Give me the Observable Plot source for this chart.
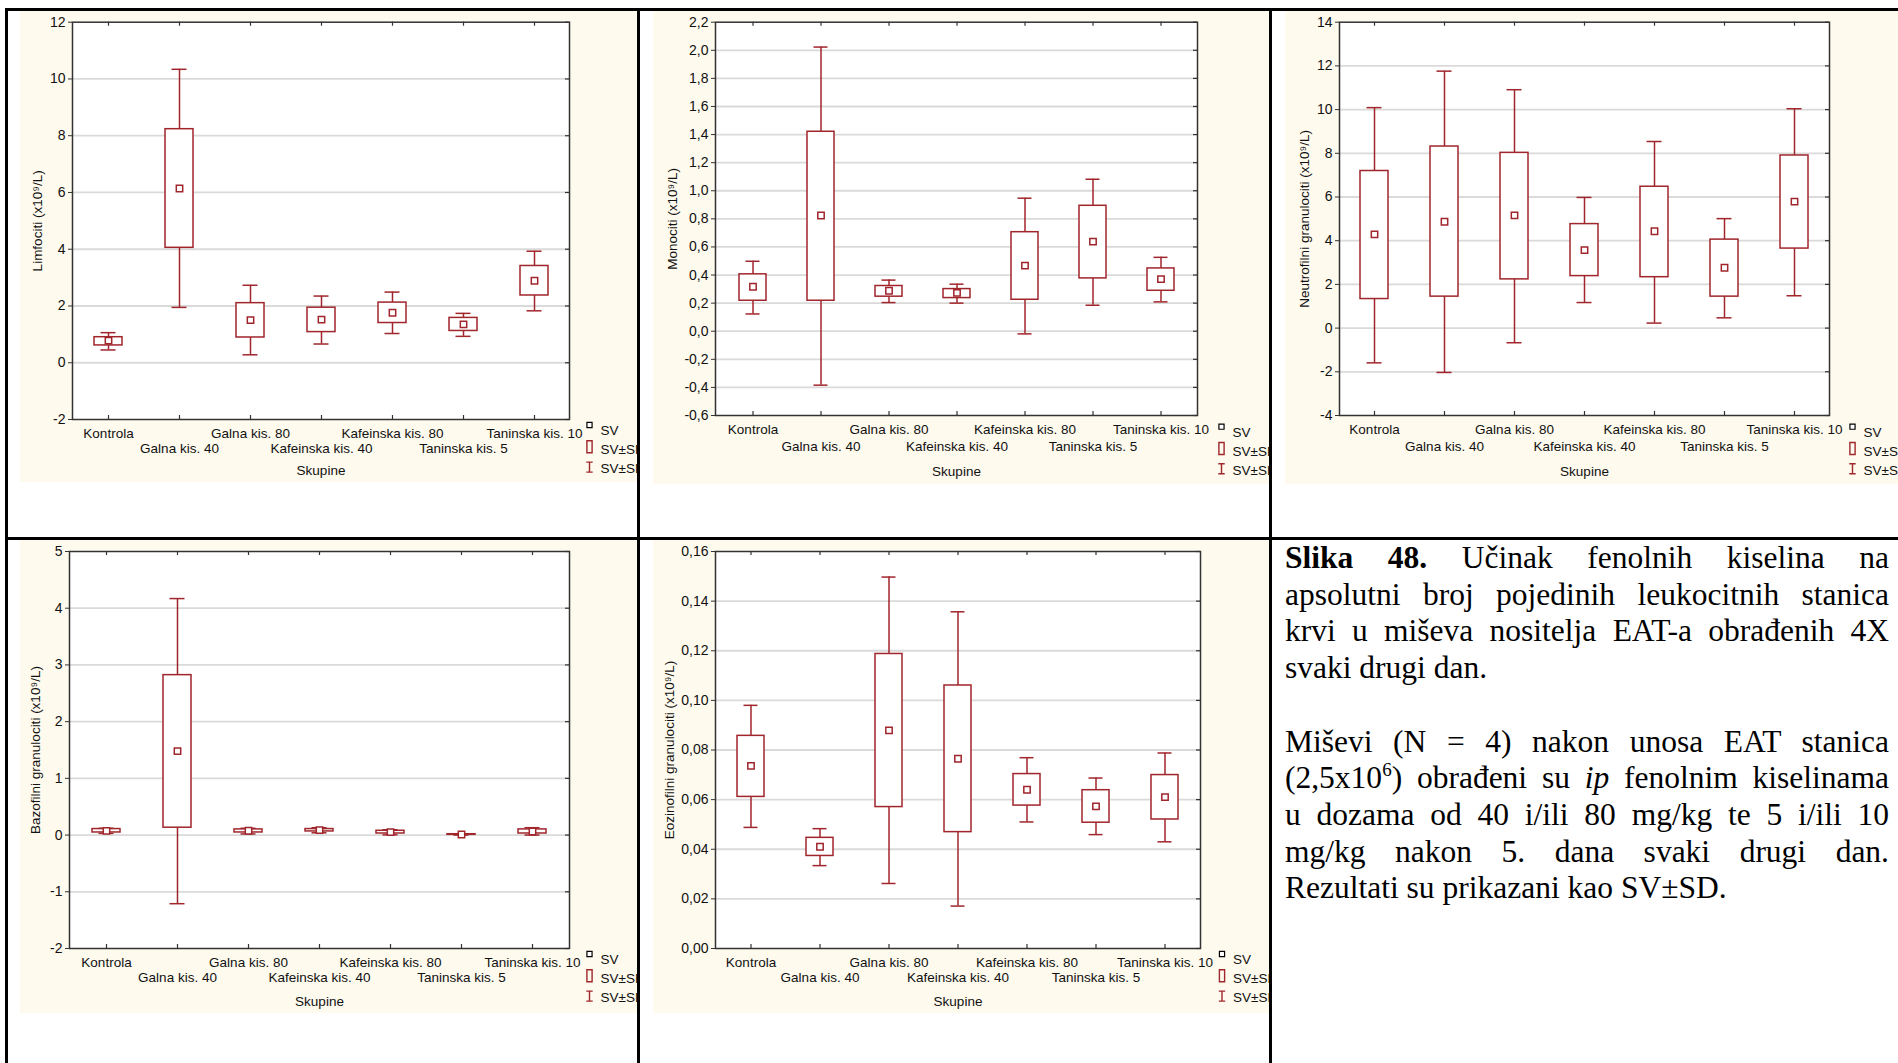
<!DOCTYPE html>
<html><head><meta charset="utf-8">
<script src="https://cdn.jsdelivr.net/npm/d3@7"></script>
<script src="https://cdn.jsdelivr.net/npm/@observablehq/plot@0.6"></script>
<style>
html,body{margin:0;padding:0;background:#fff;width:1898px;height:1063px;overflow:hidden;position:relative;font-family:"Liberation Sans",Arial,sans-serif;}
.panel{position:absolute;background:#fefaee;overflow:hidden;}
.panel svg{display:block;}
.rule{position:absolute;background:#000;}
#caption{position:absolute;left:1285px;top:540px;width:604px;font-family:"Liberation Serif","Times New Roman",serif;font-size:31.5px;line-height:36.7px;color:#000;}
#caption .l{text-align:justify;text-align-last:justify;}
#caption .last{text-align:left;text-align-last:left;}
#caption sup{font-size:19px;line-height:0;vertical-align:0;position:relative;top:-12px;}
</style>
</head><body>
<div class="panel" id="p1" style="left:20px;top:11px;width:617px;height:471px;"></div>
<div class="panel" id="p2" style="left:653px;top:11px;width:616px;height:473px;"></div>
<div class="panel" id="p3" style="left:1285px;top:11px;width:613px;height:473px;"></div>
<div class="panel" id="p4" style="left:20px;top:540px;width:617px;height:473px;"></div>
<div class="panel" id="p5" style="left:653px;top:540px;width:616px;height:473px;"></div>

<div class="rule" style="left:5px;top:8px;width:1893px;height:3px;"></div>
<div class="rule" style="left:5px;top:8px;width:3px;height:1055px;"></div>
<div class="rule" style="left:637px;top:8px;width:3px;height:1055px;"></div>
<div class="rule" style="left:1269px;top:8px;width:3px;height:1055px;"></div>
<div class="rule" style="left:5px;top:537px;width:1893px;height:3px;"></div>

<div id="caption">
<div class="l"><b>Slika 48.</b> Učinak fenolnih kiselina na</div>
<div class="l">apsolutni broj pojedinih leukocitnih stanica</div>
<div class="l">krvi u miševa nositelja EAT-a obrađenih 4X</div>
<div class="l last">svaki drugi dan.</div>
<div class="l last">&nbsp;</div>
<div class="l">Miševi (N = 4) nakon unosa EAT stanica</div>
<div class="l">(2,5x10<sup>6</sup>) obrađeni su <i>ip</i> fenolnim kiselinama</div>
<div class="l">u dozama od 40 i/ili 80 mg/kg te 5 i/ili 10</div>
<div class="l">mg/kg nakon 5. dana svaki drugi dan.</div>
<div class="l last">Rezultati su prikazani kao SV±SD.</div>
</div>

<script>
// ---------- DATA ----------
const groups = ["Kontrola","Galna kis. 40","Galna kis. 80","Kafeinska kis. 40","Kafeinska kis. 80","Taninska kis. 5","Taninska kis. 10"];
const xTitle = "Skupine";
const legendLabels = ["SV","SV±SP","SV±SD"];

const limfTitle = "Limfociti (x10⁹/L)";
const limfTicks = [-2,0,2,4,6,8,10,12];
const limfMean = [0.78, 6.14, 1.50, 1.52, 1.76, 1.35, 2.89];
const limfSE = [[0.61,0.90],[4.05,8.23],[0.89,2.10],[1.08,1.94],[1.40,2.12],[1.12,1.58],[2.37,3.41]];
const limfSD = [[0.45,1.06],[1.95,10.34],[0.28,2.73],[0.66,2.35],[1.03,2.49],[0.93,1.74],[1.83,3.93]];

const monoTitle = "Monociti (x10⁹/L)";
const monoTicks = [-0.6,-0.4,-0.2,0,0.2,0.4,0.6,0.8,1.0,1.2,1.4,1.6,1.8,2.0,2.2];
const monoMean = [0.317, 0.824, 0.288, 0.273, 0.467, 0.638, 0.371];
const monoSE = [[0.217,0.405],[0.217,1.42],[0.246,0.322],[0.236,0.300],[0.224,0.705],[0.376,0.893],[0.288,0.447]];
const monoSD = [[0.123,0.498],[-0.384,2.023],[0.204,0.364],[0.200,0.335],[-0.019,0.947],[0.185,1.082],[0.209,0.526]];

const neutTitle = "Neutrofilni granulociti (x10⁹/L)";
const neutTicks = [-4,-2,0,2,4,6,8,10,12,14];
const neutMean = [4.29, 4.87, 5.16, 3.57, 4.43, 2.76, 5.79];
const neutSE = [[1.33,7.19],[1.44,8.31],[2.23,8.02],[2.38,4.76],[2.33,6.47],[1.44,4.05],[3.64,7.90]];
const neutSD = [[-1.59,10.09],[-2.03,11.76],[-0.67,10.91],[1.17,5.98],[0.23,8.54],[0.47,5.01],[1.48,10.04]];

const bazoTitle = "Bazofilni granulociti (x10⁹/L)";
const bazoTicks = [-2,-1,0,1,2,3,4,5];
const bazoMean = [0.075, 1.48, 0.076, 0.088, 0.052, 0.010, 0.064];
const bazoSE = [[0.046,0.106],[0.13,2.82],[0.046,0.100],[0.064,0.106],[0.028,0.076],[0.005,0.015],[0.028,0.100]];
const bazoSD = [[0.030,0.120],[-1.21,4.17],[0.020,0.120],[0.040,0.130],[0.004,0.094],[0.000,0.020],[0.000,0.130]];

const eozTitle = "Eozinofilni granulociti (x10⁹/L)";
const eozTicks = [0,0.02,0.04,0.06,0.08,0.10,0.12,0.14,0.16];
const eozMean = [0.0736, 0.0410, 0.0879, 0.0765, 0.0640, 0.0573, 0.0610];
const eozSE = [[0.0611,0.0857],[0.0373,0.0446],[0.0570,0.1187],[0.0469,0.1060],[0.0576,0.0703],[0.0507,0.0638],[0.0520,0.0699]];
const eozSD = [[0.0488,0.0980],[0.0334,0.0483],[0.0262,0.1497],[0.0171,0.1357],[0.0510,0.0769],[0.0459,0.0687],[0.0430,0.0788]];

// ---------- DRAWING ----------
const C = "#a0262c";
const FONT = "'Liberation Sans', Arial, sans-serif";
const boxSym = {draw(ctx){ ctx.rect(-2.6,-6,5.2,12); }};
const whiskSym = {draw(ctx){ ctx.moveTo(-3.2,-5); ctx.lineTo(3.2,-5); ctx.moveTo(0,-5); ctx.lineTo(0,5); ctx.moveTo(-3.2,5); ctx.lineTo(3.2,5); }};
const intFmt = d => String(d);
const dec = n => d => d.toFixed(n).replace(".", ",");

function panel(cfg) {
  const {id, w, h, mL, mR, mT, mB, mean, se, sd, ticks, fmt, title, titleDx, rows, lg} = cfg;
  const data = groups.map((g, i) => ({g, m: mean[i], seLo: se[i][0], seHi: se[i][1], sdLo: sd[i][0], sdHi: sd[i][1]}));
  const innerW = w - mL - mR, innerH = h - mT - mB;
  const txt = {fontSize: 13.5, fill: "#111", lineAnchor: "middle"};
  const legendMarks = [];
  legendLabels.forEach((lab, i) => {
    const ty = lg.dy + i * 19.3;
    legendMarks.push(Plot.text([lab], {frameAnchor: "bottom-right", dx: lg.dx + 11, dy: ty, textAnchor: "start", ...txt}));
  });
  legendMarks.push(Plot.dot([0], {frameAnchor: "bottom-right", dx: lg.dx, dy: lg.dy - 5.5, symbol: "square", r: 2.9, fill: "white", stroke: "#000", strokeWidth: 1.2}));
  legendMarks.push(Plot.dot([0], {frameAnchor: "bottom-right", dx: lg.dx, dy: lg.dy + 19.3 - 3, symbol: boxSym, fill: "none", stroke: C, strokeWidth: 1.4}));
  legendMarks.push(Plot.dot([0], {frameAnchor: "bottom-right", dx: lg.dx, dy: lg.dy + 38.6 - 2, symbol: whiskSym, fill: "none", stroke: C, strokeWidth: 1.4}));

  const chart = Plot.plot({
    width: w, height: h, marginLeft: mL, marginRight: mR, marginTop: mT, marginBottom: mB,
    style: {background: "transparent", fontFamily: FONT, overflow: "visible"},
    x: {type: "band", domain: groups, paddingInner: 0.606, paddingOuter: 0.303, axis: null},
    y: {domain: [ticks[0], ticks[ticks.length - 1]], axis: null, label: null},
    marks: [
      Plot.frame({fill: "white"}),
      Plot.ruleY(ticks.slice(1, -1), {stroke: "#dadada", strokeWidth: 1.8}),
      Plot.ruleY(ticks, {insetLeft: innerW - 4, stroke: "#333", strokeWidth: 1.2}),
      Plot.axisY(ticks, {tickSize: 4, tickPadding: 3, tickFormat: fmt, label: null, fontSize: 14, fill: "#111", stroke: "#333"}),
      Plot.ruleX(groups, {x: d => d, insetTop: innerH - 4, stroke: "#333", strokeWidth: 1.2}),
      Plot.ruleX(groups, {x: d => d, insetBottom: innerH - 4, stroke: "#333", strokeWidth: 1.2}),
      Plot.ruleX(data, {x: "g", y1: "sdLo", y2: "sdHi", stroke: C, strokeWidth: 1.5}),
      Plot.tickY(data, {x: "g", y: "sdLo", insetLeft: 6.5, insetRight: 6.5, stroke: C, strokeWidth: 1.5}),
      Plot.tickY(data, {x: "g", y: "sdHi", insetLeft: 6.5, insetRight: 6.5, stroke: C, strokeWidth: 1.5}),
      Plot.barY(data, {x: "g", y1: "seLo", y2: "seHi", fill: "white", stroke: C, strokeWidth: 1.5}),
      Plot.dot(data, {x: "g", y: "m", symbol: "square", r: 3.6, fill: "white", stroke: C, strokeWidth: 1.5}),
      Plot.frame({stroke: "#333", strokeWidth: 1.5}),
      Plot.text(groups.filter((d, i) => i % 2 === 0), {x: d => d, text: d => d, frameAnchor: "bottom", dy: rows[0], textAnchor: "middle", ...txt}),
      Plot.text(groups.filter((d, i) => i % 2 === 1), {x: d => d, text: d => d, frameAnchor: "bottom", dy: rows[1], textAnchor: "middle", ...txt}),
      Plot.text([xTitle], {frameAnchor: "bottom", dy: rows[2], textAnchor: "middle", ...txt}),
      Plot.text([title], {frameAnchor: "left", rotate: -90, dx: titleDx, textAnchor: "middle", ...txt}),
      ...legendMarks
    ]
  });
  document.getElementById(id).appendChild(chart);
}

panel({id: "p1", w: 617, h: 471, mL: 52, mR: 68, mT: 10.7, mB: 63,
  mean: limfMean, se: limfSE, sd: limfSD, ticks: limfTicks, fmt: intFmt, title: limfTitle, titleDx: -35,
  rows: [14, 29, 51], lg: {dx: 20, dy: 11}});
panel({id: "p2", w: 616, h: 473, mL: 62, mR: 72, mT: 10.7, mB: 69,
  mean: monoMean, se: monoSE, sd: monoSD, ticks: monoTicks, fmt: dec(1), title: monoTitle, titleDx: -43,
  rows: [14, 31, 56], lg: {dx: 24, dy: 16.7}});
panel({id: "p3", w: 613, h: 473, mL: 54, mR: 69, mT: 10.7, mB: 69,
  mean: neutMean, se: neutSE, sd: neutSD, ticks: neutTicks, fmt: intFmt, title: neutTitle, titleDx: -35,
  rows: [14, 31, 56], lg: {dx: 23, dy: 16.7}});
panel({id: "p4", w: 617, h: 473, mL: 49, mR: 68, mT: 11, mB: 65,
  mean: bazoMean, se: bazoSE, sd: bazoSD, ticks: bazoTicks, fmt: intFmt, title: bazoTitle, titleDx: -33.5,
  rows: [14, 29, 53], lg: {dx: 20, dy: 11}});
panel({id: "p5", w: 616, h: 473, mL: 62, mR: 69, mT: 11, mB: 65,
  mean: eozMean, se: eozSE, sd: eozSD, ticks: eozTicks, fmt: dec(2), title: eozTitle, titleDx: -46,
  rows: [14, 29, 53], lg: {dx: 21.5, dy: 11}});
</script>
</body></html>
